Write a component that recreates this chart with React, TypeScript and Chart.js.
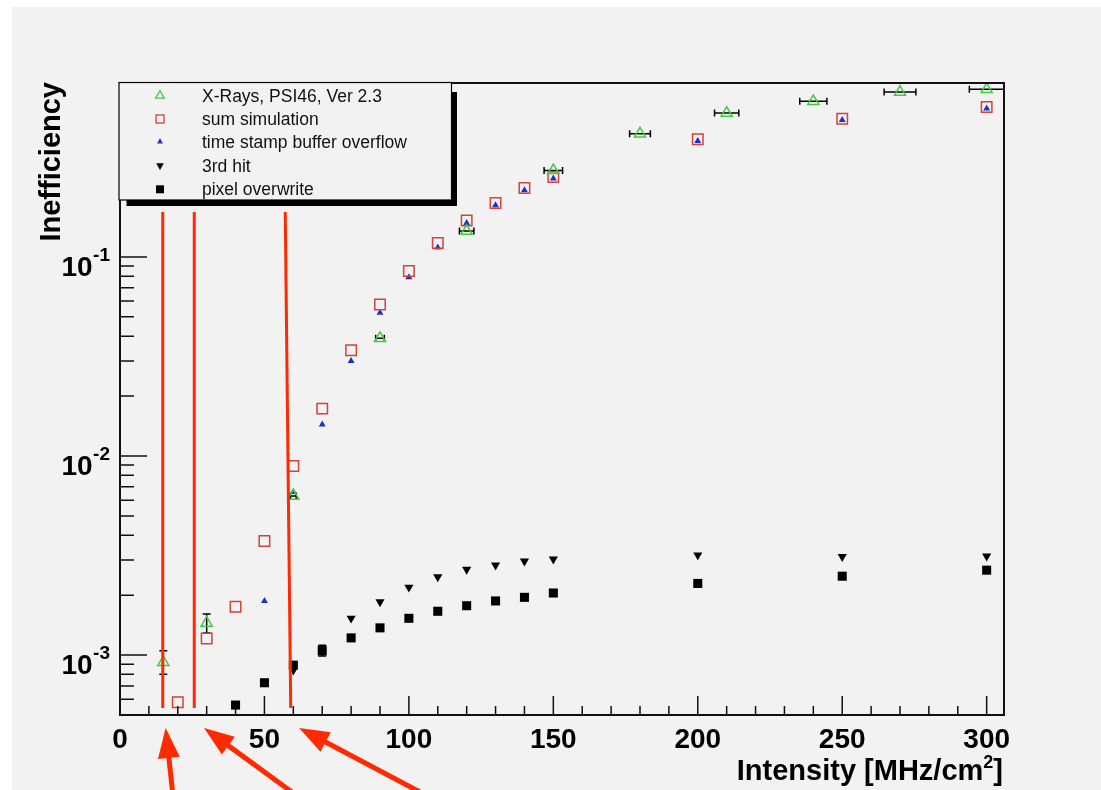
import React, { useEffect, useRef } from 'react';
import { Chart, registerables } from 'chart.js';

Chart.register(...registerables);

const FONT = '"Liberation Sans", Arial, Helvetica, sans-serif';
const GREEN = '#3fcc3f';
const RED = '#d4423a';
const BLUE = '#1f2fc8';
const BLACK = '#000000';
const ANNOT = '#ff2a00';
const BG = '#f2f2f2';

// ---- data ----
const xrayX = [15, 30, 60, 90, 120, 150, 180, 210, 240, 270, 300];
const xrayY = [0.00092, 0.00145, 0.0063, 0.039, 0.135, 0.272, 0.416, 0.528, 0.605, 0.674, 0.695];
const xrayErrX = [0, 0, 1, 1.5, 2.5, 3.2, 3.6, 4.2, 4.7, 5.5, 6];
const xrayErrLow = [0.0008, 0.00129, null, null, null, null, null, null, null, null, null];
const xrayErrHigh = [0.00105, 0.00161, null, null, null, null, null, null, null, null, null];

const sumX = [20, 30, 40, 50, 60, 70, 80, 90, 100, 110, 120, 130, 140, 150, 200, 250, 300];
const sumY = [0.00058, 0.00121, 0.00175, 0.00374, 0.0089, 0.0173, 0.034, 0.0577, 0.085, 0.1176, 0.1523, 0.1867, 0.222, 0.252, 0.39, 0.495, 0.566];

const tsX = [50, 60, 70, 80, 90, 100, 110, 120, 130, 140, 150, 200, 250, 300];
const tsY = [0.00187, 0.0066, 0.0144, 0.03, 0.0524, 0.079, 0.1115, 0.148, 0.182, 0.216, 0.248, 0.382, 0.487, 0.557];

const hit3X = [60, 70, 80, 90, 100, 110, 120, 130, 140, 150, 200, 250, 300];
const hit3Y = [0.00084, 0.00108, 0.00153, 0.00185, 0.00219, 0.00247, 0.00269, 0.00283, 0.00296, 0.00303, 0.00318, 0.00312, 0.00314];

const owX = [40, 50, 60, 70, 80, 90, 100, 110, 120, 130, 140, 150, 200, 250, 300];
const owY = [0.000561, 0.000726, 0.00089, 0.00105, 0.00122, 0.00137, 0.00153, 0.00166, 0.00177, 0.00187, 0.00195, 0.00205, 0.00229, 0.00249, 0.00267];
const owErrLow = [null, null, null, 0.00099, null, null, null, null, null, null, null, null, null, null, null];
const owErrHigh = [null, null, null, 0.00112, null, null, null, null, null, null, null, null, null, null, null];

const LEGEND_LABELS = ['X-Rays, PSI46, Ver 2.3', 'sum simulation', 'time stamp buffer overflow', '3rd hit', 'pixel overwrite'];

const X_MIN = 0;
const X_MAX = 306;
const Y_MIN = 5e-4;
const Y_MAX = 0.7476;
const X_MAJOR_TICKS = [0, 50, 100, 150, 200, 250, 300];
const X_TICK_LABELS = ['0', '50', '100', '150', '200', '250', '300'];
const Y_DECADES = [-3, -2, -1];
const Y_TICK_LABELS = ['-3', '-2', '-1'];

// annotation (red marks added on top of the figure), in data units
const RED_LINES = [
  { xTop: 14.8, xBottom: 14.8 },
  { xTop: 25.7, xBottom: 25.7 },
  { xTop: 57.2, xBottom: 59.1 },
];
const RED_LINE_TOP = 0.168;
const RED_LINE_BOTTOM = 5.42e-4;
const ARROW_TIP_X = [15.8, 29.1, 62.0];
const ARROW_TAIL_X = [18.2, 59.5, 103.8];

function pts(xs: number[], ys: number[]) {
  return xs.map((x, i) => ({ x, y: ys[i] }));
}

function tri(ctx: CanvasRenderingContext2D, x: number, y: number, r: number, down: boolean) {
  ctx.beginPath();
  const s = down ? -1 : 1;
  ctx.moveTo(x, y - s * r);
  ctx.lineTo(x + r * Math.sin(Math.PI / 3), y + s * r / 2);
  ctx.lineTo(x - r * Math.sin(Math.PI / 3), y + s * r / 2);
  ctx.closePath();
}

function drawArrow(ctx: CanvasRenderingContext2D, sx: number, sy: number, tx: number, ty: number) {
  const dx = tx - sx, dy = ty - sy;
  const len = Math.hypot(dx, dy);
  const ux = dx / len, uy = dy / len;
  const px = -uy, py = ux;
  const hl = 30, hw = 11;
  ctx.beginPath();
  ctx.moveTo(sx, sy);
  ctx.lineTo(tx - ux * hl * 0.8, ty - uy * hl * 0.8);
  ctx.stroke();
  ctx.beginPath();
  ctx.moveTo(tx, ty);
  ctx.lineTo(tx - ux * hl + px * hw, ty - uy * hl + py * hw);
  ctx.lineTo(tx - ux * hl - px * hw, ty - uy * hl - py * hw);
  ctx.closePath();
  ctx.fill();
}

const rootPlugin = {
  id: 'rootLook',
  beforeDraw(chart: any) {
    const { ctx, width, height } = chart;
    ctx.save();
    ctx.fillStyle = '#ffffff';
    ctx.fillRect(0, 0, width, height);
    ctx.fillStyle = BG;
    ctx.fillRect(12, 7, width - 12, height - 7);
    ctx.restore();
  },
  beforeDatasetsDraw(chart: any) {
    const { ctx, chartArea } = chart;
    const xs = chart.scales.x, ys = chart.scales.y;
    ctx.save();
    ctx.strokeStyle = '#000';
    ctx.lineWidth = 1.5;
    const vbar = (px: number, lo: number, hi: number) => {
      const a = ys.getPixelForValue(lo), b = ys.getPixelForValue(hi);
      ctx.beginPath();
      ctx.moveTo(px, a); ctx.lineTo(px, b);
      ctx.moveTo(px - 4, a); ctx.lineTo(px + 4, a);
      ctx.moveTo(px - 4, b); ctx.lineTo(px + 4, b);
      ctx.stroke();
    };
    xrayX.forEach((x, i) => {
      const px = xs.getPixelForValue(x);
      const py = ys.getPixelForValue(xrayY[i]);
      const ex = xrayErrX[i];
      if (ex > 0) {
        const l = xs.getPixelForValue(x - ex);
        const rr = xs.getPixelForValue(x + ex);
        const r = Math.min(rr, chartArea.right);
        ctx.beginPath();
        ctx.moveTo(l, py); ctx.lineTo(r, py);
        ctx.moveTo(l, py - 3.5); ctx.lineTo(l, py + 3.5);
        if (rr <= chartArea.right) { ctx.moveTo(r, py - 3.5); ctx.lineTo(r, py + 3.5); }
        ctx.stroke();
      }
      const lo = xrayErrLow[i], hi = xrayErrHigh[i];
      if (lo != null && hi != null) vbar(px, lo, hi);
    });
    owX.forEach((x, i) => {
      const lo = owErrLow[i], hi = owErrHigh[i];
      if (lo != null && hi != null) vbar(xs.getPixelForValue(x), lo, hi);
    });
    ctx.restore();
  },
  afterDatasetsDraw(chart: any) {
    const { ctx, chartArea, height } = chart;
    const xs = chart.scales.x, ys = chart.scales.y;
    const { left, right, top, bottom } = chartArea;
    ctx.save();

    // ticks
    ctx.strokeStyle = '#111';
    ctx.lineWidth = 1.5;
    ctx.beginPath();
    for (let v = 0; v <= X_MAX; v += 10) {
      const px = xs.getPixelForValue(v);
      const L = v % 50 === 0 ? 19 : 9;
      ctx.moveTo(px, bottom); ctx.lineTo(px, bottom - L);
    }
    for (let d = -4; d <= 0; d++) {
      for (let k = 1; k <= 9; k++) {
        const val = k * Math.pow(10, d);
        if (val < Y_MIN * 0.999 || val > Y_MAX) continue;
        const py = ys.getPixelForValue(val);
        const L = k === 1 ? 27 : 14;
        ctx.moveTo(left, py); ctx.lineTo(left + L, py);
      }
    }
    ctx.stroke();

    // frame
    ctx.lineWidth = 2;
    ctx.strokeRect(left, top, right - left, bottom - top);

    // x tick labels
    ctx.fillStyle = '#000';
    ctx.textBaseline = 'alphabetic';
    ctx.font = `bold 28px ${FONT}`;
    ctx.textAlign = 'center';
    X_MAJOR_TICKS.forEach((v, i) => {
      ctx.fillText(X_TICK_LABELS[i], xs.getPixelForValue(v), 748);
    });

    // y tick labels
    Y_DECADES.forEach((d, i) => {
      const py = ys.getPixelForValue(Math.pow(10, d));
      ctx.font = `bold 19px ${FONT}`;
      const ws = ctx.measureText(Y_TICK_LABELS[i]).width;
      const supLeft = 110 - ws;
      ctx.textAlign = 'left';
      ctx.fillText(Y_TICK_LABELS[i], supLeft, py + 4);
      ctx.font = `bold 28px ${FONT}`;
      ctx.textAlign = 'right';
      ctx.fillText('10', supLeft - 0.5, py + 19);
    });

    // x title
    ctx.textAlign = 'left';
    ctx.font = `bold 29px ${FONT}`;
    const p1 = 'Intensity [MHz/cm';
    const p2 = ']';
    const w1 = ctx.measureText(p1).width;
    const w2 = ctx.measureText(p2).width;
    ctx.font = `bold 18px ${FONT}`;
    const wsup = ctx.measureText('2').width;
    const start = 1003 - (w1 + wsup + w2);
    ctx.font = `bold 29px ${FONT}`;
    ctx.fillText(p1, start, 780);
    ctx.fillText(p2, start + w1 + wsup, 780);
    ctx.font = `bold 18px ${FONT}`;
    ctx.fillText('2', start + w1, 768);

    // y title
    ctx.save();
    ctx.translate(60, 82);
    ctx.rotate(-Math.PI / 2);
    ctx.font = `bold 29px ${FONT}`;
    ctx.textAlign = 'right';
    ctx.fillText('Inefficiency', 0, 0);
    ctx.restore();

    // red annotation lines
    ctx.strokeStyle = ANNOT;
    ctx.lineWidth = 3;
    RED_LINES.forEach((l) => {
      ctx.beginPath();
      ctx.moveTo(xs.getPixelForValue(l.xTop), ys.getPixelForValue(RED_LINE_TOP));
      ctx.lineTo(xs.getPixelForValue(l.xBottom), ys.getPixelForValue(RED_LINE_BOTTOM));
      ctx.stroke();
    });

    // legend
    const bx = 119, by = 82.5, bw = 332.5, bh = 117.5;
    ctx.fillStyle = '#000';
    ctx.fillRect(bx + bw, by + 9.5, 5.5, bh - 4);
    ctx.fillRect(bx + 7.5, by + bh, bw - 2, 6);
    ctx.fillStyle = BG;
    ctx.fillRect(bx, by, bw, bh);
    ctx.strokeStyle = '#000';
    ctx.lineWidth = 1.2;
    ctx.strokeRect(bx, by, bw, bh);
    const rows = [95.7, 119, 141.7, 165.5, 189.3];
    const mx = 160;
    // markers
    ctx.lineWidth = 1.3;
    ctx.strokeStyle = GREEN;
    tri(ctx, mx, rows[0], 5, false); ctx.stroke();
    ctx.strokeStyle = RED;
    ctx.strokeRect(mx - 4, rows[1] - 4, 8, 8);
    ctx.fillStyle = BLUE;
    tri(ctx, mx, rows[2], 3.4, false); ctx.fill();
    ctx.fillStyle = BLACK;
    tri(ctx, mx, rows[3], 4.4, true); ctx.fill();
    ctx.fillRect(mx - 4, rows[4] - 4, 8, 8);
    ctx.fillStyle = '#111';
    ctx.font = `17.5px ${FONT}`;
    ctx.textAlign = 'left';
    LEGEND_LABELS.forEach((t, i) => ctx.fillText(t, 202, rows[i] + 6));

    // arrows
    ctx.strokeStyle = ANNOT;
    ctx.fillStyle = ANNOT;
    ctx.lineWidth = 5;
    ARROW_TIP_X.forEach((tx, i) => {
      drawArrow(ctx, xs.getPixelForValue(ARROW_TAIL_X[i]), height + 2, xs.getPixelForValue(tx), bottom + 13);
    });

    ctx.restore();
  },
};

export default function App() {
  const ref = useRef<HTMLCanvasElement>(null);
  useEffect(() => {
    const canvas = ref.current;
    if (!canvas) return;
    const chart = new Chart(canvas, {
      type: 'scatter',
      data: {
        datasets: [
          {
            label: LEGEND_LABELS[0],
            data: pts(xrayX, xrayY),
            pointStyle: 'triangle',
            pointRadius: 6.4,
            pointBorderWidth: 1.5,
            pointBorderColor: GREEN,
            pointBackgroundColor: 'rgba(0,0,0,0)',
            showLine: false,
          },
          {
            label: LEGEND_LABELS[1],
            data: pts(sumX, sumY),
            pointStyle: 'rect',
            pointRadius: 7.4,
            pointBorderWidth: 1.5,
            pointBorderColor: RED,
            pointBackgroundColor: 'rgba(0,0,0,0)',
            showLine: false,
          },
          {
            label: LEGEND_LABELS[2],
            data: pts(tsX, tsY),
            pointStyle: 'triangle',
            pointRadius: 4,
            pointBorderWidth: 0,
            pointBorderColor: BLUE,
            pointBackgroundColor: BLUE,
            showLine: false,
          },
          {
            label: LEGEND_LABELS[3],
            data: pts(hit3X, hit3Y),
            pointStyle: 'triangle',
            pointRotation: 180,
            pointRadius: 5.3,
            pointBorderWidth: 0,
            pointBorderColor: BLACK,
            pointBackgroundColor: BLACK,
            showLine: false,
          },
          {
            label: LEGEND_LABELS[4],
            data: pts(owX, owY),
            pointStyle: 'rect',
            pointRadius: 6.4,
            pointBorderWidth: 0,
            pointBorderColor: BLACK,
            pointBackgroundColor: BLACK,
            showLine: false,
          },
        ] as any,
      },
      options: {
        animation: false,
        responsive: false,
        devicePixelRatio: 1,
        events: [],
        layout: { padding: { left: 120, right: 97, top: 83, bottom: 75 } },
        plugins: { legend: { display: false }, tooltip: { enabled: false } },
        scales: {
          x: { type: 'linear', min: X_MIN, max: X_MAX, display: false },
          y: { type: 'logarithmic', min: Y_MIN, max: Y_MAX, display: false, bounds: 'data' },
        },
      } as any,
      plugins: [rootPlugin],
    });
    return () => chart.destroy();
  }, []);
  return (
    <div style={{ position: 'fixed', left: 0, top: 0, width: 1101, height: 790 }}>
      <canvas ref={ref} width={1101} height={790} style={{ display: 'block', width: 1101, height: 790 }} />
    </div>
  );
}
